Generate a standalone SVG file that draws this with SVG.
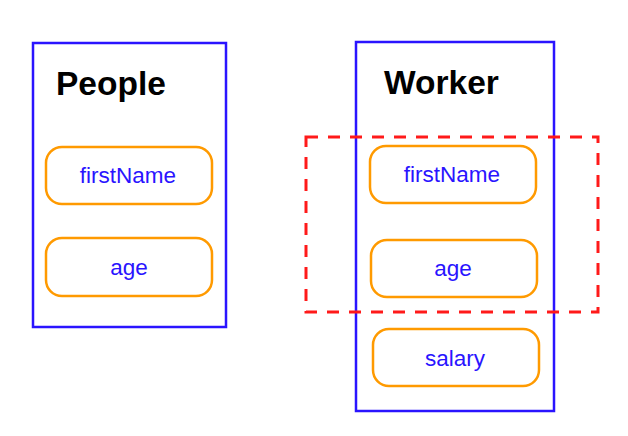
<svg xmlns="http://www.w3.org/2000/svg" width="628" height="436" viewBox="0 0 628 436">
<style>
.cls{fill:none;stroke:#2a14ff;stroke-width:2.5}
.pill{fill:#fff;stroke:#ff9a00;stroke-width:2.5}
.title{font-family:"Liberation Sans",Arial,sans-serif;font-weight:bold;font-size:33.5px;fill:#000}
.lbl{font-family:"Liberation Sans",Arial,sans-serif;font-size:22.5px;fill:#2a14ff;text-anchor:middle}
.grp{fill:none;stroke:#ff1a1a;stroke-width:3;stroke-dasharray:12 10}
</style>
<rect width="628" height="436" fill="#fff"/>
<g id="people">
<rect class="cls" x="33" y="43" width="193" height="284"/>
<text class="title" x="56" y="95">People</text>
<g id="people-firstName">
<rect class="pill" x="46" y="147" width="166" height="57" rx="16"/>
<text class="lbl" x="128" y="183">firstName</text>
</g>
<g id="people-age">
<rect class="pill" x="46" y="238" width="166" height="58" rx="16"/>
<text class="lbl" x="129" y="275">age</text>
</g>
</g>
<g id="worker">
<rect class="cls" x="356" y="42" width="198" height="369"/>
<text class="title" x="384" y="94">Worker</text>
<g id="worker-firstName">
<rect class="pill" x="370" y="146" width="166" height="57" rx="16"/>
<text class="lbl" x="452" y="182">firstName</text>
</g>
<g id="worker-age">
<rect class="pill" x="371" y="240" width="166" height="57" rx="16"/>
<text class="lbl" x="453" y="276">age</text>
</g>
<g id="worker-salary">
<rect class="pill" x="373" y="329" width="166" height="57" rx="16"/>
<text class="lbl" x="455" y="366">salary</text>
</g>
</g>
<g id="connectors">
<rect id="inherited-group" class="grp" x="306" y="137" width="292" height="175"/>
</g>
</svg>
